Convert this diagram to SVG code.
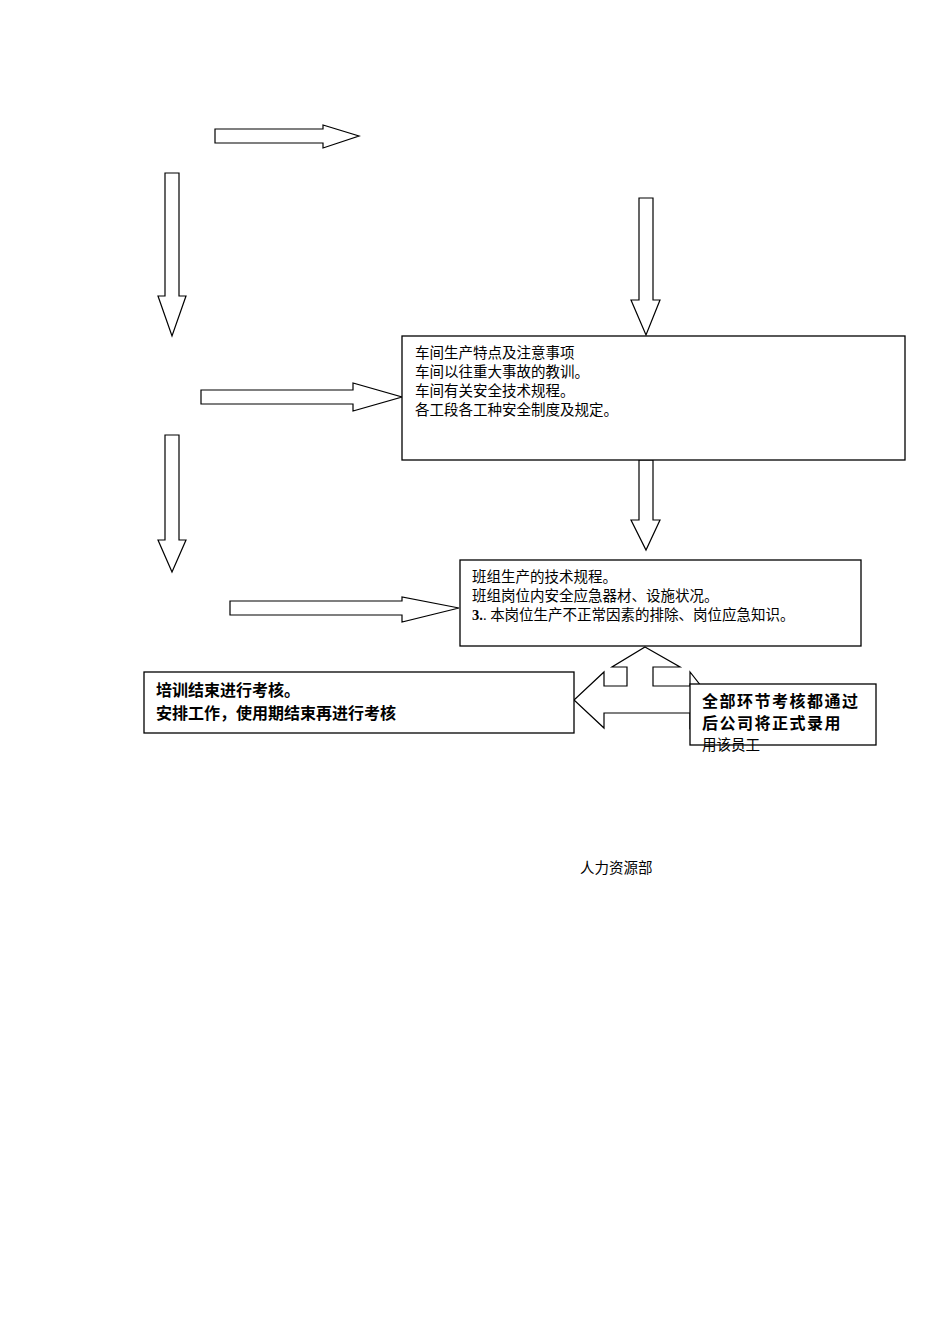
<svg xmlns="http://www.w3.org/2000/svg" width="950" height="1344" viewBox="0 0 950 1344">
<style>
.a{fill:#fff;stroke:#000;stroke-width:1.2}
.b{fill:#fff;stroke:#000;stroke-width:1.3}
.t{font-family:"Liberation Serif","Noto Sans CJK SC",serif;font-size:14.5px;fill:#000}
.k{font-family:"Liberation Sans","Noto Sans CJK SC",sans-serif;font-size:16px;font-weight:bold;fill:#000}
</style>
<rect width="950" height="1344" fill="#fff"/>
<g id="connectors">
<polygon class="a" points="215,129 323,129 323,125 359,136 323,148 323,143 215,143"/>
<polygon class="a" points="165,173 179,173 179,296 186,296 172,336 158,296 165,296"/>
<polygon class="a" points="639,198 653,198 653,300 660,300 646,335 631,300 639,300"/>
<polygon class="a" points="201,390 353,390 353,383 402,397 353,411 353,404 201,404"/>
<polygon class="a" points="165,435 179,435 179,540 186,540 172,572 158,540 165,540"/>
<polygon class="a" points="639,460 653,460 653,520 660,520 646,550 631,520 639,520"/>
<polygon class="a" points="230,601 402,601 402,597 459,608 402,622 402,615 230,615"/>
<polygon class="a" points="645,647 680,667 653,667 653,686 690,686 690,672 712,700 690,728 690,713 604,713 604,728 574,700 604,672 604,686 627,686 627,667 612,667"/>
</g>
<g id="n1"><rect class="b" x="402" y="336" width="503" height="124"/>
<text class="t" x="415" y="358">车间生产特点及注意事项</text>
<text class="t" x="415" y="377">车间以往重大事故的教训。</text>
<text class="t" x="415" y="396">车间有关安全技术规程。</text>
<text class="t" x="415" y="415">各工段各工种安全制度及规定。</text></g>
<g id="n2"><rect class="b" x="460" y="560" width="401" height="86"/>
<text class="t" x="472" y="582">班组生产的技术规程。</text>
<text class="t" x="472" y="601">班组岗位内安全应急器材、设施状况。</text>
<text class="t" x="472" y="620"><tspan font-weight="bold">3.</tspan>. 本岗位生产不正常因素的排除、岗位应急知识。</text></g>
<g id="n3"><rect class="b" x="144" y="672" width="430" height="61"/>
<text class="k" x="156" y="696">培训结束进行考核。</text>
<text class="k" x="156" y="719">安排工作，使用期结束再进行考核</text></g>
<g id="n4"><rect class="b" x="690" y="684" width="186" height="61"/>
<text class="k" x="702" y="707" font-size="15" letter-spacing="1.5">全部环节考核都通过</text>
<text class="k" x="702" y="729" font-size="15" letter-spacing="1.5">后公司将正式录用</text>
<text class="t" x="702" y="750" font-size="15">用该员工</text></g>
<text class="t" x="580" y="873" font-size="15">人力资源部</text>
</svg>
